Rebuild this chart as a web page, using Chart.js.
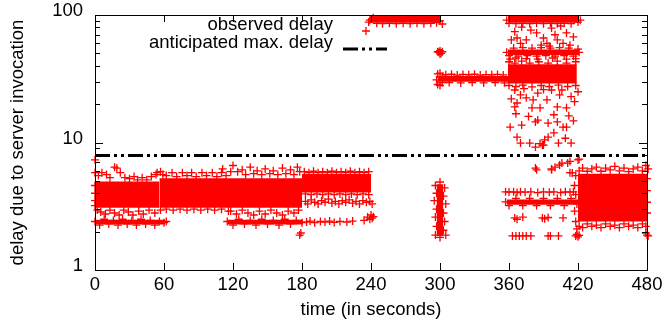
<!DOCTYPE html>
<html>
<head>
    <title>Server invocation delay</title>
    <style>
        body { margin: 0; background: #fff; }
        #wrap { width: 665px; height: 324px; }
    </style>
    <script src="https://cdn.jsdelivr.net/npm/chart.js"></script>
</head>
<body>
    <div id="wrap"><canvas id="delayChart" width="665" height="324"></canvas></div>

    <script>
        // axis ticks
        const timeTicks = [0, 60, 120, 180, 240, 300, 360, 420, 480];
        const delayTicks = [1, 2, 3, 4, 5, 6, 7, 8, 9, 10, 20, 30, 40, 50, 60, 70, 80, 90, 100];
        const delayLabels = [1, 10, 100];

        // anticipated max. delay
        const maxDelay = 7.9;

        // solid areas where the observed points overlap completely: [t from, t to, delay low, delay high]
        const denseBands = [
            [0, 56, 3.08, 4.95],
            [56, 180, 3.08, 5.25],
            [0, 61, 2.27, 2.48],
            [115, 181, 2.27, 2.48],
            [180, 240, 4.05, 5.65],
            [239, 300, 87, 98],
            [298, 302, 48.5, 54],
            [298, 360, 30.0, 33.3],
            [297, 303, 1.85, 4.7],
            [359, 421, 87, 98],
            [359, 421, 48.6, 53.7],
            [359, 419, 29, 41],
            [358, 420, 3.25, 3.58],
            [420, 480, 2.4, 5.7]
        ];

        // single observed points [t, delay]
        const obs0to120 = [
            [0,7.3],[0,5.8],[3,5.5],[6,5.8],[10,5.6],[13,5.3],[17,6.4],[19,6.3],[22,5.8],[26,5.3],[30,5.2],[34,5.4],
            [37,5.1],[41,5.3],[45,5.1],[49,5.4],[53,5.6],[54,5.8],[57,5.9],[59,5.6],[62,5.5],[67,5.8],[71,5.4],[76,5.8],
            [80,5.5],[84,5.8],[88,5.4],[93,5.8],[97,5.5],[102,5.8],[106,5.4],[110,5.8],[114,5.5],[118,5.9],
            [0,4.6],[0,4.0],[0,3.5],[0,3.2],
            [2,2.95],[5,2.85],[9,2.75],[13,2.95],[17,2.8],[21,2.7],[25,2.95],[29,2.85],[33,2.7],[38,2.9],[42,2.75],
            [47,2.95],[52,2.8],[57,2.95],[62,3.0],[68,2.95],[74,3.0],[80,2.95],[86,3.0],[92,2.95],[98,3.0],[104,2.95],
            [110,3.0],[116,2.9],
            [0,2.4],[4,2.25],[8,2.5],[12,2.3],[16,2.45],[20,2.25],[24,2.5],[28,2.3],[32,2.45],[36,2.25],[40,2.5],
            [44,2.3],[48,2.45],[52,2.25],[56,2.4],[60,2.35],[62,2.4]
        ];
        const obs120to240 = [
            [111,6.2],[120,6.6],[124,5.9],[128,6.1],[131,5.6],[135,6.4],[138,5.7],[141,6.0],[145,5.6],[148,6.2],
            [152,5.7],[155,6.0],[159,5.6],[163,6.3],[166,5.7],[170,6.1],[173,5.6],[176,6.4],[178,5.9],
            [118,2.9],[123,2.75],[128,2.95],[133,2.8],[138,2.7],[143,2.9],[148,2.75],[153,2.95],[158,2.8],[163,2.7],
            [168,2.9],[173,2.8],[177,2.95],
            [115,2.4],[120,2.25],[125,2.5],[130,2.3],[135,2.45],[140,2.25],[145,2.5],[150,2.3],[155,2.45],[160,2.25],
            [165,2.5],[170,2.3],[175,2.45],[180,2.35],[178,1.88],[179,1.95],
            [182,5.9],[186,5.8],[190,5.95],[194,5.8],[198,5.9],[202,5.8],[206,5.95],[210,5.8],[214,5.9],[218,5.8],
            [222,5.95],[226,5.8],[230,5.9],[234,5.8],[238,5.9],
            [183,3.95],[188,3.9],[193,3.95],[198,3.9],[203,3.95],[208,3.9],[213,3.95],[218,3.9],[223,3.95],[228,3.9],
            [233,3.95],[238,3.9],
            [183,3.45],[185,3.3],[188,3.55],[191,3.4],[194,3.3],[197,3.5],[200,3.4],[203,3.6],[206,3.35],[209,3.45],
            [212,3.3],[215,3.5],[218,3.4],[221,3.55],[224,3.35],[227,3.45],[230,3.3],[233,3.5],[236,3.4],[239,3.45],[241,3.3],
            [184,2.38],[187,2.42],[191,2.35],[196,2.4],[200,2.38],[204,2.42],[208,2.36],[213,2.4],[219,2.38],[224,2.42],
            [234,2.45],[237,2.6],[239,2.5],[240,2.7],[241,2.55],[242,2.62]
        ];
        const obs240to360 = [
            [239,91],[238,88],[242,95],[245,86],[250,85.5],[256,86],[262,85.5],[268,86],[274,85.5],[280,86],[286,85.5],
            [292,86],[297,87],[300,90],[302,85],
            [299,51],[300,52.5],[301,50],[300,49.5],[298,51.5],[302,51.5],
            [297,31],[298,34.5],[298,28.5],[300,35],[300,28],[302,33],[302,29.5],
            [305,34],[310,34.3],[315,33.8],[320,34.2],[325,34],[330,34.3],[335,33.8],[340,34.1],[345,34],[350,34.2],
            [355,33.9],[308,29.5],[318,29.3],[328,29.5],[338,29.3],[348,29.5],[356,29.4],
            [296,4.6],[304,4.4],[297,4.0],[303,3.8],[295,3.5],[305,3.3],[297,3.0],[303,2.8],[296,2.6],[304,2.4],
            [297,2.2],[303,2.05],[296,1.88],[300,1.8],[305,1.88],[300,4.9]
        ];
        const obs360to420Upper = [
            [358,91],[360,86],[366,85.5],[372,86],[378,85.5],[384,86],[390,85.5],[396,86],[402,85.5],[408,86],
            [414,85.5],[420,88],[422,91],
            [371,80.4],[367,66],[384,72.4],[390,66],[397,79],[402,63.7],[410,72.4],[416,67.3],[375,63.7],[393,60],
            [407,60],[370,60],[362,63.7],[379,76],[388,58],[400,70],[413,58],[365,74],[405,82],[395,57],
            [358,51],[360,48],[368,47.5],[376,48],[384,47.5],[392,48],[400,47.5],[408,48],[416,47.5],[421,51],
            [364,55],[372,55.5],[380,55],[388,55.5],[396,55],[404,55.5],[412,55],[420,54],
            [361,45],[366,46],[375,45.5],[385,45],[398,46],[410,45],[418,45.5],
            [360,43],[365,42],[371,43.5],[378,42],[386,43],[394,42],[402,43.5],[410,42],[418,43],
            [360,28],[366,27.5],[372,28.2],[380,27.3],[388,28],[395,27.5],[403,28.2],[411,27.5],[418,28],
            [365,25.8],[370,23.6],[375,22.4],[367,20.4],[381,21.6],[385,24.4],[393,21.6],[387,18.7],[380,18.7],
            [402,19],[410,18.7],[417,20.9],[414,22.9],[404,23.6],[397,25.8],[406,25.8],[365,19],[420,25],[362,22],
            [373,26.5],[390,26],
            [383,14.5],[385,15],[394,14.2],[402,14.5],[416,14.8],[407,13.2],[410,13.2],[361,13.2],[371,13.7],
            [399,16.5],[377,16],[366,16.8],[412,16.2],
            [367,11.0],[370,9.9],[378,9.9],[383,9.2],[390,9.55],[391,10.5],[394,11],[399,11.9],[403,9.9],[409,10.8],
            [414,9.9],[387,9.8],[389,9.55]
        ];
        const obs360to420Lower = [
            [383,6.3],[384,6.1],[397,6.2],[400,6.4],[404,6.66],[406,6.9],[411,6.9],[413,7.1],[420,7.3],[421,7.4],
            [415,5.77],[413,5.8],[397,6.1],
            [357,4.1],[360,4.09],[364,4.1],[367,4.05],[370,4.1],[374,4.08],[379,4.1],[385,4.05],[390,4.1],[395,4.08],
            [399,4.1],[405,4.05],[409,4.1],[413,4.08],[416,4.1],
            [357,3.42],[360,3.2],[366,3.65],[372,3.2],[378,3.65],[384,3.2],[390,3.65],[396,3.2],[402,3.65],[408,3.2],
            [414,3.65],[419,3.3],
            [365,2.56],[367,2.5],[372,2.6],[389,2.56],[391,2.52],[394,2.58],[407,2.56],
            [363,1.85],[366,1.85],[369,1.85],[372,1.85],[375,1.85],[379,1.85],[394,1.85],[396,1.85],[403,1.85],
            [418,1.85],[419,1.9],[420,1.82],[421,1.87]
        ];
        const obs420to480 = [
            [421,6.0],[424,6.3],[428,5.95],[432,6.2],[436,6.4],[440,5.95],[444,6.3],[448,6.1],[452,6.5],[456,6.0],
            [460,6.3],[464,5.9],[468,6.2],[472,6.4],[476,6.0],[479,6.6],[481,6.2],
            [421,2.2],[424,2.15],[428,2.3],[432,2.2],[436,2.25],[440,2.15],[444,2.3],[448,2.2],[452,2.25],[456,2.15],
            [460,2.3],[464,2.2],[468,2.25],[472,2.15],[476,2.3],[479,2.2],
            [480,5.2],[480,4.2],[480,3.4],[480,2.8],
            [418,5.5],[417,4.6],[418,3.9],[417,2.9],[418,2.4],[419,2.1],
            [480,1.88],[479,1.95],[481,1.85]
        ];

        const RED = '#ff0000';
        const FONT = { family: "'Liberation Sans', Arial, Helvetica, sans-serif", size: 18.5 };
        const DASH = [15, 4, 3, 4, 3, 4];

        const toXY = arr => arr.map(p => ({ x: p[0], y: p[1] }));

        const bandSets = denseBands.map(b => ({
            type: 'line',
            label: 'band',
            data: [{ x: b[0], y: b[3] }, { x: b[1], y: b[3] }],
            fill: { value: b[2] },
            backgroundColor: RED,
            borderColor: 'rgba(0,0,0,0)',
            borderWidth: 0,
            pointRadius: 0,
            showLine: true,
            order: 3
        }));

        const observed = [].concat(obs0to120, obs120to240, obs240to360, obs360to420Upper, obs360to420Lower, obs420to480);

        // no extra padding from the scales, the plot box comes from layout.padding only
        const noPad = s => { s.paddingTop = 0; s.paddingBottom = 0; s.paddingLeft = 0; s.paddingRight = 0; };

        // inward tick marks, mirrored on all sides, plus the frame and the key
        const framePlugin = {
            id: 'frame',
            afterDatasetsDraw(chart) {
                const ctx = chart.ctx;
                const a = chart.chartArea;
                const xs = chart.scales.x, ys = chart.scales.y;
                ctx.save();
                ctx.strokeStyle = '#000';
                ctx.lineWidth = 1;
                ctx.beginPath();
                ys.ticks.forEach(t => {
                    const p = Math.round(ys.getPixelForValue(t.value)) + 0.5;
                    const len = delayLabels.includes(t.value) ? 8 : 5;
                    ctx.moveTo(a.left, p); ctx.lineTo(a.left + len, p);
                    ctx.moveTo(a.right, p); ctx.lineTo(a.right - len, p);
                });
                xs.ticks.forEach(t => {
                    const p = Math.round(xs.getPixelForValue(t.value)) + 0.5;
                    ctx.moveTo(p, a.bottom); ctx.lineTo(p, a.bottom - 7);
                    ctx.moveTo(p, a.top); ctx.lineTo(p, a.top + 7);
                });
                ctx.stroke();
                ctx.strokeRect(Math.round(a.left) + 0.5, Math.round(a.top) + 0.5,
                    Math.round(a.right - a.left), Math.round(a.bottom - a.top));

                // key
                ctx.fillStyle = '#000';
                ctx.font = FONT.size + 'px ' + FONT.family;
                ctx.textAlign = 'right';
                ctx.textBaseline = 'alphabetic';
                ctx.fillText('observed delay', 333, 30);
                ctx.fillText('anticipated max. delay', 333, 48);

                ctx.strokeStyle = RED;
                ctx.lineWidth = 1.3;
                ctx.beginPath();
                ctx.moveTo(362, 31); ctx.lineTo(370, 31);
                ctx.moveTo(366, 27); ctx.lineTo(366, 35);
                ctx.stroke();

                ctx.strokeStyle = '#000';
                ctx.lineWidth = 3;
                ctx.setLineDash(DASH);
                ctx.beginPath();
                ctx.moveTo(343, 49); ctx.lineTo(387, 49);
                ctx.stroke();
                ctx.restore();
            }
        };

        new Chart(document.getElementById('delayChart'), {
            type: 'scatter',
            data: {
                datasets: [
                    {
                        type: 'line',
                        label: 'anticipated max. delay',
                        data: [{ x: 0, y: maxDelay }, { x: 480, y: maxDelay }],
                        borderColor: '#000',
                        borderWidth: 3,
                        borderDash: DASH,
                        pointRadius: 0,
                        fill: false,
                        order: 1
                    },
                    {
                        label: 'observed delay',
                        data: toXY(observed),
                        pointStyle: 'cross',
                        pointRadius: 4,
                        borderColor: RED,
                        backgroundColor: RED,
                        borderWidth: 1.3,
                        clip: false,
                        order: 2
                    }
                ].concat(bandSets)
            },
            options: {
                responsive: false,
                animation: false,
                devicePixelRatio: 1,
                layout: { padding: { top: 15, right: 18, left: 0, bottom: 0 } },
                plugins: {
                    legend: { display: false },
                    tooltip: { enabled: false }
                },
                scales: {
                    x: {
                        type: 'linear',
                        min: 0,
                        max: 480,
                        afterBuildTicks: s => { s.ticks = timeTicks.map(v => ({ value: v })); },
                        afterFit: s => { s.height = 54; noPad(s); },
                        grid: { display: false, drawTicks: false },
                        border: { display: false },
                        ticks: { font: FONT, color: '#000', padding: 4, maxRotation: 0, autoSkip: false },
                        title: { display: true, text: 'time (in seconds)', font: FONT, color: '#000', padding: { top: 0, bottom: 3 } }
                    },
                    y: {
                        type: 'logarithmic',
                        min: 1,
                        max: 100,
                        afterBuildTicks: s => { s.ticks = delayTicks.map(v => ({ value: v })); },
                        afterFit: s => { s.width = 95; noPad(s); },
                        grid: { display: false, drawTicks: false },
                        border: { display: false },
                        ticks: {
                            font: FONT,
                            color: '#000',
                            padding: 12,
                            labelOffset: -4,
                            autoSkip: false,
                            callback: v => delayLabels.includes(v) ? String(v) : ''
                        },
                        title: { display: true, text: 'delay due to server invocation', font: FONT, color: '#000', padding: { top: 7, bottom: 0 } }
                    }
                }
            },
            plugins: [framePlugin]
        });
    </script>
</body>
</html>
